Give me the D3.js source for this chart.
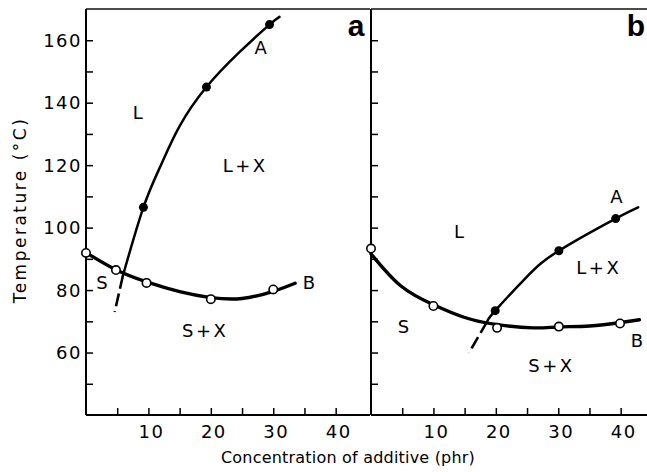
<!DOCTYPE html>
<html><head><meta charset="utf-8">
<script src="https://cdn.jsdelivr.net/npm/d3@7"></script>
<style>
html,body{margin:0;padding:0;background:#fff;}
svg{display:block;}
text{font-family:"DejaVu Sans",sans-serif;fill:#000;}
</style></head>
<body>
<svg id="c" width="647" height="472"></svg>
<script>
// ---------- data ----------
const xTickLabels = [10, 20, 30, 40];
const yTickLabels = [60, 80, 100, 120, 140, 160];
const xMinorTicks = [5, 10, 15, 20, 25, 30, 35, 40];
const yMinorTicks = [50, 60, 70, 80, 90, 100, 110, 120, 130, 140, 150, 160];

// Panel a
const aCurveA_x = [5.9, 9.2, 12.0, 15.0, 19.3, 24.5, 29.4, 31.0];
const aCurveA_y = [84.5, 106.5, 120, 132.5, 145, 156, 165, 167.5];
const aDashA_x = [5.9, 4.6];
const aDashA_y = [84.5, 73];
const aDotsA_x = [9.2, 19.3, 29.4];
const aDotsA_y = [106.5, 145, 165];
const aCurveB_x = [0, 4.8, 9.7, 15, 20, 25, 30, 33.5];
const aCurveB_y = [92, 86.5, 82.6, 79.5, 77.6, 77.3, 79.6, 82.2];
const aOpenB_x = [0, 4.8, 9.7, 20, 30];
const aOpenB_y = [91.9, 86.4, 82.3, 77.1, 80.2];
const aLabels = ["A", "L", "L+X", "S", "B", "S+X"];
const aLabel_x = [28.2, 8.5, 25.5, 2.75, 35.9, 19.1];
const aLabel_y = [157.8, 136.7, 120, 82.3, 82.3, 67.2];

// Panel b
const bCurveA_x = [18.6, 19.9, 25, 30.1, 39.2, 42.8];
const bCurveA_y = [69.9, 73.4, 84.3, 92.6, 102.9, 106.5];
const bDashA_x = [18.6, 15.7];
const bDashA_y = [69.9, 59.9];
const bDotsA_x = [19.9, 30.1, 39.2];
const bDotsA_y = [73.4, 92.6, 102.9];
const bCurveB_x = [0, 4.8, 10, 14.9, 20, 26, 30, 35, 40, 43];
const bCurveB_y = [91.6, 81.3, 75.3, 71.3, 69, 67.9, 68.2, 68.5, 69.6, 70.5];
const bOpenB_x = [0, 10, 20.2, 30.1, 39.9];
const bOpenB_y = [93.3, 74.9, 67.9, 68.3, 69.3];
const bLabels = ["L", "A", "L+X", "S", "B", "S+X"];
const bLabel_x = [14.3, 39.5, 36.5, 5.4, 42.8, 28.9];
const bLabel_y = [98.6, 109.8, 87.1, 68.2, 63.7, 56];

const panelNames = ["a", "b"];

// ---------- layout ----------
const svg = d3.select("#c");
const y = d3.scaleLinear().domain([40, 170]).range([415, 9]);
const xa = d3.scaleLinear().domain([0, 45.5]).range([86, 370]);
const xb = d3.scaleLinear().domain([0, 45.5]).range([371, 655]);
const zip = (xs, ys) => xs.map((v, i) => [v, ys[i]]);

function drawPanel(x, opt) {
  const g = svg.append("g");
  const ya = d3.axisRight(y).tickValues(yMinorTicks).tickSize(7).tickFormat("");
  const gy = g.append("g").attr("transform", `translate(${x(0)},0)`).call(ya);
  gy.select(".domain").remove();
  gy.selectAll(".tick line").attr("stroke", "#000").attr("stroke-width", 1.5);
  g.append("line").attr("x1", x(0)).attr("x2", x(0)).attr("y1", y(170)).attr("y2", y(40))
    .attr("stroke", "#000").attr("stroke-width", 2);
  const xaAx = d3.axisTop(x).tickValues(xMinorTicks).tickSize(7).tickFormat("");
  const gx = g.append("g").attr("transform", `translate(0,${y(40)})`).call(xaAx);
  gx.select(".domain").remove();
  gx.selectAll(".tick line").attr("stroke", "#000").attr("stroke-width", 1.5);
  g.append("line").attr("x1", x(0)).attr("x2", x(45.5)).attr("y1", y(40)).attr("y2", y(40))
    .attr("stroke", "#000").attr("stroke-width", 2);
  g.append("line").attr("x1", x(0)).attr("x2", x(45.5)).attr("y1", y(170)).attr("y2", y(170))
    .attr("stroke", "#111").attr("stroke-width", 1.6);
  g.selectAll("text.xl").data(xTickLabels).join("text").attr("class", "xl")
    .attr("x", d => x(d) + 3).attr("y", 438).attr("text-anchor", "middle")
    .style("font-size", "18px").style("letter-spacing", "1.5px").text(d => d);
  if (opt.yLabels) {
    g.selectAll("text.yl").data(yTickLabels).join("text").attr("class", "yl")
      .attr("x", x(0) - 4).attr("y", d => y(d)).attr("dy", "0.36em").attr("text-anchor", "end")
      .style("font-size", "18px").style("letter-spacing", "1.5px").text(d => d);
  }
  const line = d3.line().x(d => x(d[0])).y(d => y(d[1])).curve(d3.curveNatural);
  g.append("path").attr("d", line(zip(opt.cBx, opt.cBy))).attr("fill", "none")
    .attr("stroke", "#000").attr("stroke-width", 3.4).attr("stroke-linecap", "round");
  g.append("path").attr("d", line(zip(opt.cAx, opt.cAy))).attr("fill", "none")
    .attr("stroke", "#000").attr("stroke-width", 2.5).attr("stroke-linecap", "round");
  g.append("path").attr("d", d3.line().x(d => x(d[0])).y(d => y(d[1]))(zip(opt.dAx, opt.dAy)))
    .attr("fill", "none").attr("stroke", "#000").attr("stroke-width", 2.6)
    .attr("stroke-dasharray", "13,5");
  g.selectAll("circle.o").data(zip(opt.oBx, opt.oBy)).join("circle").attr("class", "o")
    .attr("cx", d => x(d[0])).attr("cy", d => y(d[1])).attr("r", 4.2)
    .attr("fill", "#fff").attr("stroke", "#000").attr("stroke-width", 1.6);
  g.selectAll("circle.f").data(zip(opt.fAx, opt.fAy)).join("circle").attr("class", "f")
    .attr("cx", d => x(d[0])).attr("cy", d => y(d[1])).attr("r", 4.5).attr("fill", "#000");
  g.selectAll("text.rl").data(opt.labels.map((t, i) => [t, opt.lx[i], opt.ly[i]])).join("text")
    .attr("class", "rl").attr("x", d => x(d[1])).attr("y", d => y(d[2])).attr("dy", "0.36em")
    .attr("text-anchor", "middle").style("font-size", "18px").style("letter-spacing", "2.5px")
    .text(d => d[0]);
  g.append("text").attr("x", opt.px).attr("y", 36).attr("text-anchor", "middle")
    .style("font-family", "'Liberation Sans',Arial,sans-serif").style("font-weight", "bold")
    .style("font-size", "30px").text(opt.name);
}

drawPanel(xa, {
  yLabels: true, cAx: aCurveA_x, cAy: aCurveA_y, dAx: aDashA_x, dAy: aDashA_y,
  fAx: aDotsA_x, fAy: aDotsA_y, cBx: aCurveB_x, cBy: aCurveB_y, oBx: aOpenB_x, oBy: aOpenB_y,
  labels: aLabels, lx: aLabel_x, ly: aLabel_y, name: panelNames[0], px: 356
});
drawPanel(xb, {
  yLabels: false, cAx: bCurveA_x, cAy: bCurveA_y, dAx: bDashA_x, dAy: bDashA_y,
  fAx: bDotsA_x, fAy: bDotsA_y, cBx: bCurveB_x, cBy: bCurveB_y, oBx: bOpenB_x, oBy: bOpenB_y,
  labels: bLabels, lx: bLabel_x, ly: bLabel_y, name: panelNames[1], px: 636
});

svg.append("text").attr("x", 348).attr("y", 463).attr("text-anchor", "middle")
  .style("font-size", "16px").style("letter-spacing", "0.2px").text("Concentration of additive (phr)");
svg.append("text").attr("transform", "translate(26,210) rotate(-90)").attr("text-anchor", "middle")
  .style("font-size", "17px").style("letter-spacing", "2.5px").text("Temperature (°C)");
</script>
</body></html>
